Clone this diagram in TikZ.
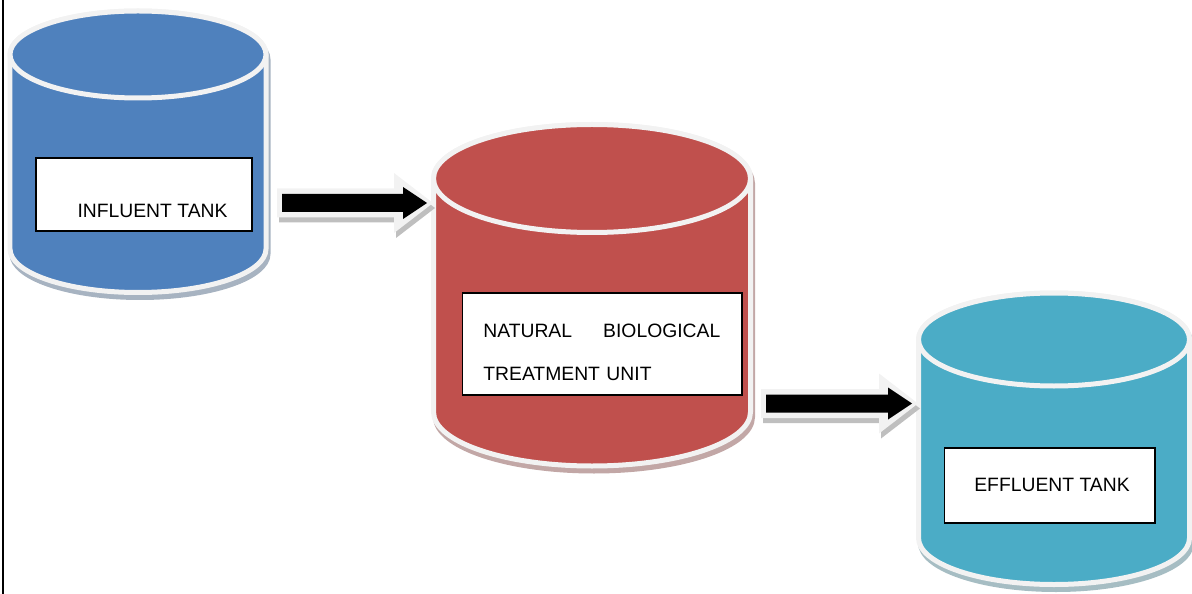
\documentclass[tikz,border=0pt]{standalone}
\usepackage{fontspec}
\setmainfont{Liberation Sans}
\usepackage{tikz}
\usetikzlibrary{calc}
\definecolor{tankblue}{HTML}{4F81BD}
\definecolor{tankred}{HTML}{C0504D}
\definecolor{tankteal}{HTML}{4BACC6}
\definecolor{rimgray}{HTML}{F2F2F2}
\definecolor{arrowshade}{HTML}{BFBFBF}
\tikzset{
  tankrim/.style={draw=rimgray, line width=0.1cm, line join=round},
  tankshadow/.style={fill=#1!40!gray!60!white, draw=#1!40!gray!60!white, line width=0.1cm},
  labelbox/.style={draw=black, line width=0.6pt, fill=white, inner sep=0pt},
  labeltext/.style={inner sep=0pt, font=\fontsize{11}{24.4}\selectfont},
}
% #1 colour, #2 centre x, #3 top y, #4 bottom y, #5 x radius, #6 y radius (pixels)
\newcommand{\tank}[6]{ \filldraw[tankshadow=#1, shift={(2,5)}] (#2-#5,#3) -- (#2-#5,#4) arc[start angle=180, end angle=360, x radius=#5*0.02cm, y radius=#6*0.02cm] -- (#2+#5,#3) arc[start angle=0, end angle=180, x radius=#5*0.02cm, y radius=#6*0.02cm] -- cycle; \filldraw[tankrim, fill=#1] (#2-#5,#3) -- (#2-#5,#4) arc[start angle=180, end angle=360, x radius=#5*0.02cm, y radius=#6*0.02cm] -- (#2+#5,#3) arc[start angle=0, end angle=180, x radius=#5*0.02cm, y radius=#6*0.02cm] -- cycle; \filldraw[tankrim, fill=#1] (#2,#3) ellipse[x radius=#5*0.02cm, y radius=#6*0.02cm];}
% #1 tail coordinate, #2 tip coordinate
\newcommand{\flowarrow}[2]{ \fill[arrowshade, transform canvas={shift={(2,5)}}] ($(#1)+(-5,-14.5)$) -- ($(#2)+(-33,-14.5)$) -- ($(#2)+(-33,-30)$) -- ($(#2)+(6,0)$) -- ($(#2)+(-33,30)$) -- ($(#2)+(-33,14.5)$) -- ($(#1)+(-5,14.5)$) -- cycle; \fill[rimgray] ($(#1)+(-5,-14.5)$) -- ($(#2)+(-33,-14.5)$) -- ($(#2)+(-33,-30)$) -- ($(#2)+(6,0)$) -- ($(#2)+(-33,30)$) -- ($(#2)+(-33,14.5)$) -- ($(#1)+(-5,14.5)$) -- cycle; \fill[black] ($(#1)+(0,-9)$) -- ($(#2)+(-24,-9)$) -- ($(#2)+(-24,-16)$) -- (#2) -- ($(#2)+(-24,16)$) -- ($(#2)+(-24,9)$) -- ($(#1)+(0,9)$) -- cycle;}

\begin{document}
\begin{tikzpicture}[x=0.02cm, y=-0.02cm]
\useasboundingbox (0,0) rectangle (1192,594);
\draw[line width=0.9pt] (3,0) -- (3,594);

% tank1
\tank{tankblue}{138}{54.5}{249}{128}{43.5}
\node[labelbox, minimum width=4.32cm, minimum height=1.46cm] (inbox) at (144,194.5) {};
\node[labeltext] (intext) at (152.5,211) {INFLUENT TANK};

% tank2
\tank{tankred}{592}{178.5}{412}{158.5}{54}
\node[labelbox, minimum width=5.6cm, minimum height=2.04cm] (nbtbox) at (602,344) {};
\node[labeltext, anchor=west, text width=4.74cm, align=left] (nbttext) at (483,352.5) {NATURAL\hfill BIOLOGICAL\\TREATMENT UNIT};

% tank3
\tank{tankteal}{1054}{339.5}{538}{135.5}{46.5}
\node[labelbox, minimum width=4.22cm, minimum height=1.5cm] (effbox) at (1049.5,485.5) {};
\node[labeltext] (efftext) at (1052,485) {EFFLUENT TANK};

% arrows
\coordinate (flow1s) at (282,203);
\coordinate (flow1e) at (427,203);
\coordinate (flow2s) at (766,403.5);
\coordinate (flow2e) at (912,403.5);
\flowarrow{flow1s}{flow1e}
\flowarrow{flow2s}{flow2e}

\end{tikzpicture}
\end{document}
